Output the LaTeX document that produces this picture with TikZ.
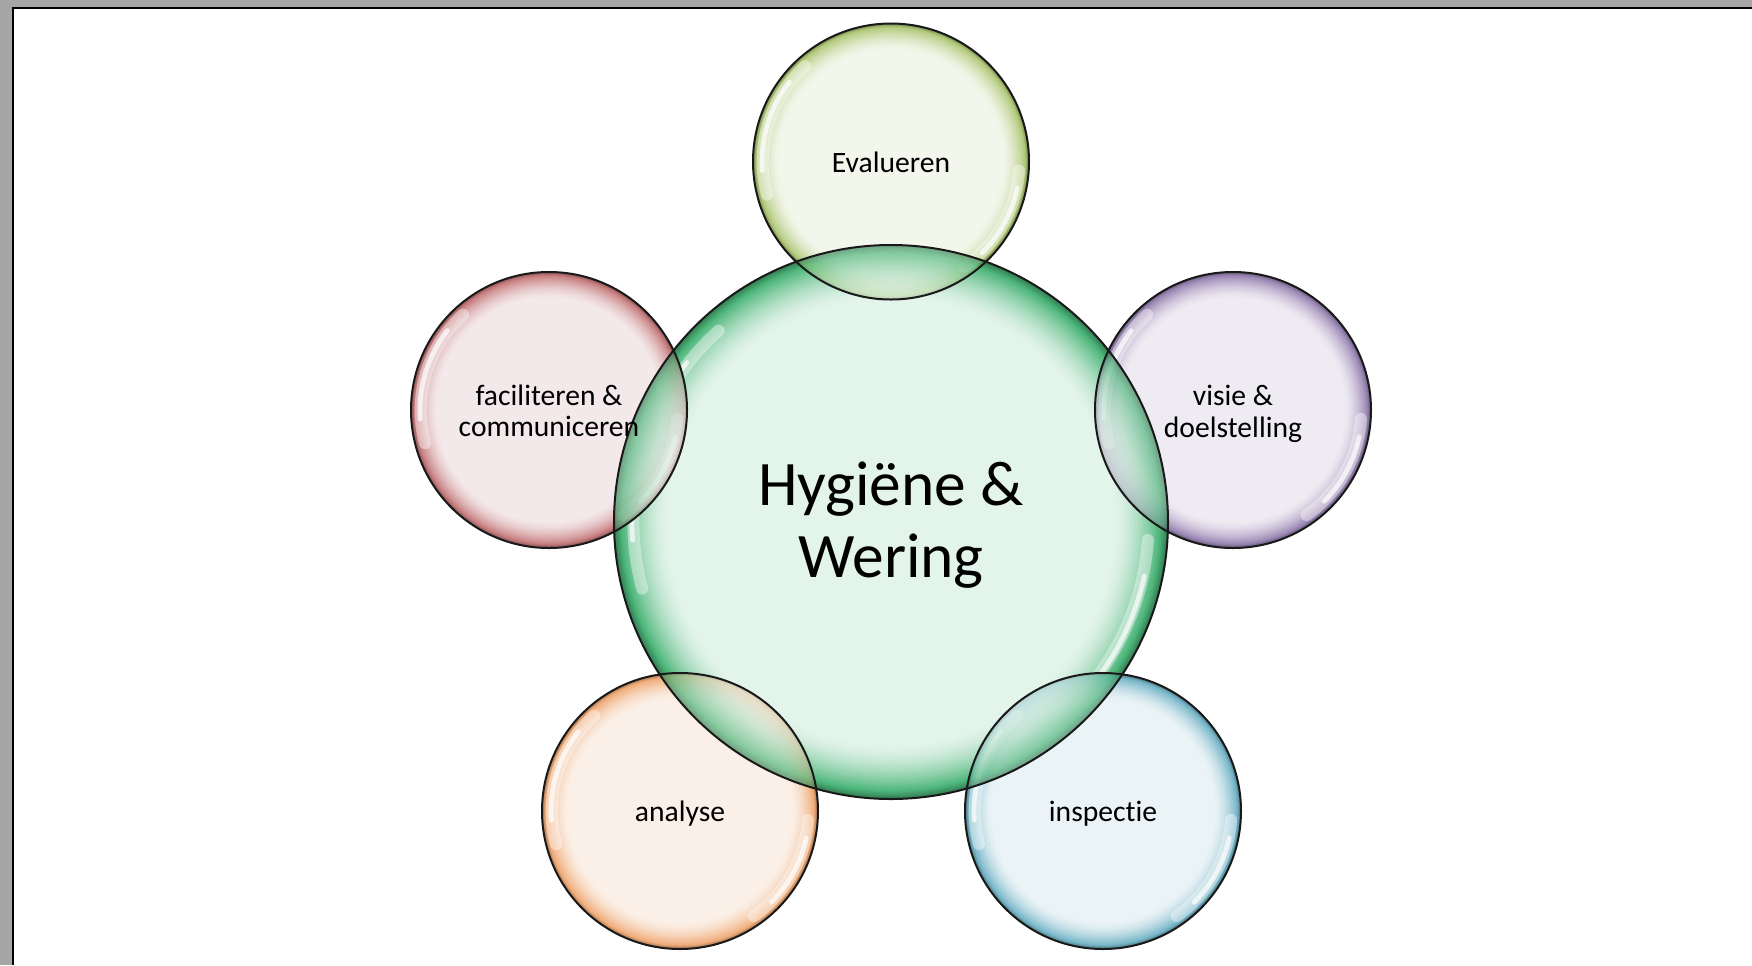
\documentclass[tikz,border=0pt]{standalone}
\usepackage{fontspec}
\setmainfont[Ligatures=NoCommon]{Carlito}
\definecolor{Cpale}{HTML}{E3F4EA}\definecolor{Crim}{HTML}{3AAE6C}
\definecolor{Epale}{HTML}{F3F6EB}\definecolor{Erim}{HTML}{A9C46C}
\definecolor{Fpale}{HTML}{F4E9EA}\definecolor{Frim}{HTML}{C27072}
\definecolor{Vpale}{HTML}{EFEBF3}\definecolor{Vrim}{HTML}{907AAC}
\definecolor{Apale}{HTML}{FBF0E7}\definecolor{Arim}{HTML}{EFA56D}
\definecolor{Ipale}{HTML}{EAF3F6}\definecolor{Irim}{HTML}{68AFC3}
% concentric bubble gradient: #1 centre, #2 radius, #3 pale, #4 rim
\newcommand\bubblefill[4]{%
  \foreach \i in {0,...,44}{%
    \pgfmathsetmacro\t{1-\i*0.0047}%
    \pgfmathtruncatemacro\p{\t>0.975 ? 90 : 90*(max(\t-0.8,0.0001)/0.175)^1.7}%
    \pgfmathtruncatemacro\q{\t>0.975 ? 100-(\t-0.975)*1200 : 100}%
    \fill[#4!\p!#3!\q!black] (#1) circle[radius=\t*#2];}}
\newcommand\bubblehl[2]{%
  \draw[hlsoft] ([shift={(132:0.93*#2)}]#1) arc[start angle=132,end angle=195,radius=0.93*#2];
  \draw[hlline] ([shift={(142:0.935*#2)}]#1) arc[start angle=142,end angle=184,radius=0.935*#2];
  \draw[hlsoft] ([shift={(-4:0.93*#2)}]#1) arc[start angle=-4,end angle=-55,radius=0.93*#2];
  \draw[hlline] ([shift={(-12:0.935*#2)}]#1) arc[start angle=-12,end angle=-45,radius=0.935*#2];}
\newcommand\bubble[4]{\bubblefill{#1}{#2}{#3}{#4}\bubblehl{#1}{#2}}
\newcommand\overlay[2]{\begin{scope}[transparency group, opacity=0.68]\clip (#1) circle[radius=#2];
  \bubblefill{C}{138.5pt}{Cpale}{Crim}
  \end{scope}}
\begin{document}
\begin{tikzpicture}[x=0.5pt,y=-0.5pt,
  hlsoft/.style={white, line cap=round, line width=6pt, opacity=0.4},
  hlline/.style={white, line cap=round, line width=2.4pt, opacity=0.7},
  bord/.style={draw=black!90, line width=1pt},
  small/.style={font=\fontsize{14.8}{15.7}\selectfont, align=center, text=black},
  big/.style={font=\fontsize{31.7}{36}\selectfont, align=center, text=black, yshift=-1.8pt}]
\useasboundingbox (0,0) rectangle (1752,965);
% window frame
\fill[black!35] (0,0) rectangle (1752,965);
\fill[white] (13,8) rectangle (1752,965);
\draw[black, line width=1pt] (13,965) -- (13,8) -- (1752,8);
% centres
\coordinate (C) at (891,522);
\coordinate (E) at (891,161.5);
\coordinate (F) at (549,410);
\coordinate (V) at (1233,410);
\coordinate (A) at (680,811);
\coordinate (I) at (1103,811);
% central bubble
\bubble{C}{138.5pt}{Cpale}{Crim}
% outer bubbles
\bubble{E}{69pt}{Epale}{Erim}\overlay{E}{69pt}
\bubble{F}{69pt}{Fpale}{Frim}\overlay{F}{69pt}
\bubble{V}{69pt}{Vpale}{Vrim}\overlay{V}{69pt}
\bubble{A}{69pt}{Apale}{Arim}\overlay{A}{69pt}
\bubble{I}{69pt}{Ipale}{Irim}\overlay{I}{69pt}
% borders
\draw[bord] (C) circle[radius=138.5pt];
\foreach \c in {E,F,V,A,I} \draw[bord] (\c) circle[radius=69pt];
% texts
\node[big] (tC) at (C) {Hygiëne \&\\Wering};
\node[small, yshift=-0.3pt] (tE) at (E) {Evalueren};
\node[small, yshift=-0.3pt] (tF) at (F) {faciliteren \&\\communiceren};
\node[small, yshift=-2pt] (tV) at (V) {visie \&\\doelstelling};
\node[small, yshift=-1.4pt] (tA) at (A) {analyse};
\node[small, yshift=-1.4pt] (tI) at (I) {inspectie};
\end{tikzpicture}
\end{document}
